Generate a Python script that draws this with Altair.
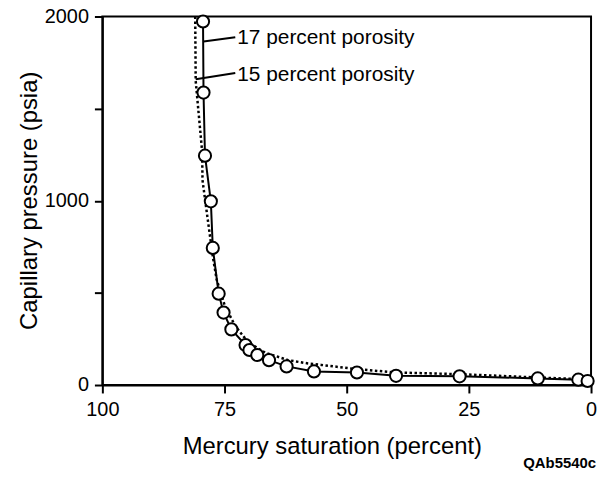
import altair as alt
import pandas as pd

# 17 percent porosity (solid line with circles)
sat17 = [79.4, 79.3, 79.0, 77.8, 77.4, 76.2, 75.2, 73.6, 70.7, 69.9, 68.3, 65.9, 62.3,
         56.7, 47.9, 39.9, 26.9, 10.9, 2.6, 0.7]
pc17 = [1973, 1587, 1245, 997, 744, 496, 393, 302, 217, 190, 163, 135, 101,
        74, 68, 50, 47, 36, 29, 22]
# the solid curve continues to the top of the frame
top17_sat = [79.5]
top17_pc = [2000]

# 15 percent porosity (dotted line)
sat15 = [81.0, 80.9, 79.6, 79.5, 78.6, 77.4, 76.6, 74.9, 72.8, 70.1, 66.7, 62.0, 57.9,
         55.2, 47.9, 39.9, 26.9, 10.9, 2.4]
pc15 = [2000, 1650, 1272, 1110, 931, 697, 571, 427, 320, 230, 176, 135, 117,
        109, 86, 68, 59, 41, 32]

# annotations
ann_text = ["17 percent porosity", "15 percent porosity"]
ann_x = [72.4, 72.4]
ann_y = [1881, 1682]
lead_x1 = [79.3, 80.9]
lead_y1 = [1865, 1659]
lead_x2 = [72.8, 72.8]
lead_y2 = [1888, 1694]

x_ticks = [100, 75, 50, 25, 0]
y_ticks = [0, 500, 1000, 1500, 2000]

FONT = "Liberation Sans"

line17 = pd.DataFrame({"sat": top17_sat + sat17, "pc": top17_pc + pc17})
line17["ord"] = range(len(line17))
pts17 = pd.DataFrame({"sat": sat17, "pc": pc17})
line15 = pd.DataFrame({"sat": sat15, "pc": pc15})
line15["ord"] = range(len(line15))
ann = pd.DataFrame({"t": ann_text, "x": ann_x, "y": ann_y})
lead = pd.DataFrame({"x": lead_x1, "y": lead_y1, "x2": lead_x2, "y2": lead_y2})

xscale = alt.Scale(domain=[100, 0], nice=False, zero=False)
yscale = alt.Scale(domain=[0, 2000], nice=False)

xaxis = alt.Axis(
    values=x_ticks, title="Mercury saturation (percent)", grid=False,
    labelFontSize=20, titleFontSize=24, labelFont=FONT, titleFont=FONT,
    labelColor="black", titleColor="black", titleFontWeight="normal",
    domainColor="black", domainWidth=2, tickColor="black", tickWidth=2, tickSize=8,
    labelPadding=7, labelFlush=False, titleX=231, titleY=69, titleBaseline="alphabetic",
    titleAlign="center",
)
yaxis = alt.Axis(
    values=y_ticks, title="Capillary pressure (psia)", grid=False, format="d",
    labelExpr="datum.value % 1000 == 0 ? datum.label : ''",
    labelFontSize=20, titleFontSize=24, labelFont=FONT, titleFont=FONT,
    labelColor="black", titleColor="black", titleFontWeight="normal",
    domainColor="black", domainWidth=2, tickColor="black", tickWidth=2, tickSize=8,
    labelPadding=6, labelFlush=False, titleX=-73, titleY=185, titleBaseline="middle",
    titleAlign="center", titleAngle=270,
)

base_x = alt.X("sat:Q", scale=xscale, axis=xaxis)
base_y = alt.Y("pc:Q", scale=yscale, axis=yaxis)

l15 = alt.Chart(line15).mark_line(color="black", strokeWidth=2.5, strokeDash=[2.5, 2.5]).encode(
    x=base_x, y=base_y, order="ord:Q")
l17 = alt.Chart(line17).mark_line(color="black", strokeWidth=2).encode(
    x=alt.X("sat:Q", scale=xscale), y=alt.Y("pc:Q", scale=yscale), order="ord:Q")
p17 = alt.Chart(pts17).mark_point(shape="circle", filled=True, fill="white", stroke="black",
                                  strokeWidth=2, size=150, opacity=1).encode(
    x=alt.X("sat:Q", scale=xscale), y=alt.Y("pc:Q", scale=yscale))
leaders = alt.Chart(lead).mark_rule(color="black", strokeWidth=2).encode(
    x=alt.X("x:Q", scale=xscale), y=alt.Y("y:Q", scale=yscale), x2="x2:Q", y2="y2:Q")
labels = alt.Chart(ann).mark_text(align="left", baseline="middle", fontSize=21, font=FONT,
                                  color="black").encode(
    x=alt.X("x:Q", scale=xscale), y=alt.Y("y:Q", scale=yscale), text="t:N")
code = alt.Chart(pd.DataFrame({"t": ["QAb5540c"]})).mark_text(
    align="right", baseline="alphabetic", fontSize=15, fontWeight="bold", font=FONT, color="black"
).encode(x=alt.value(497), y=alt.value(455), text="t:N")

chart = alt.layer(l15, l17, p17, leaders, labels, code).properties(
    width=492, height=371,
    padding={"left": 95, "top": 7, "right": 6, "bottom": 87},
    autosize=alt.AutoSizeParams(type="none"),
    background="white",
).configure_view(stroke="black", strokeWidth=2)

chart.save("out.html", embed_options={"renderer": "svg", "actions": False})
